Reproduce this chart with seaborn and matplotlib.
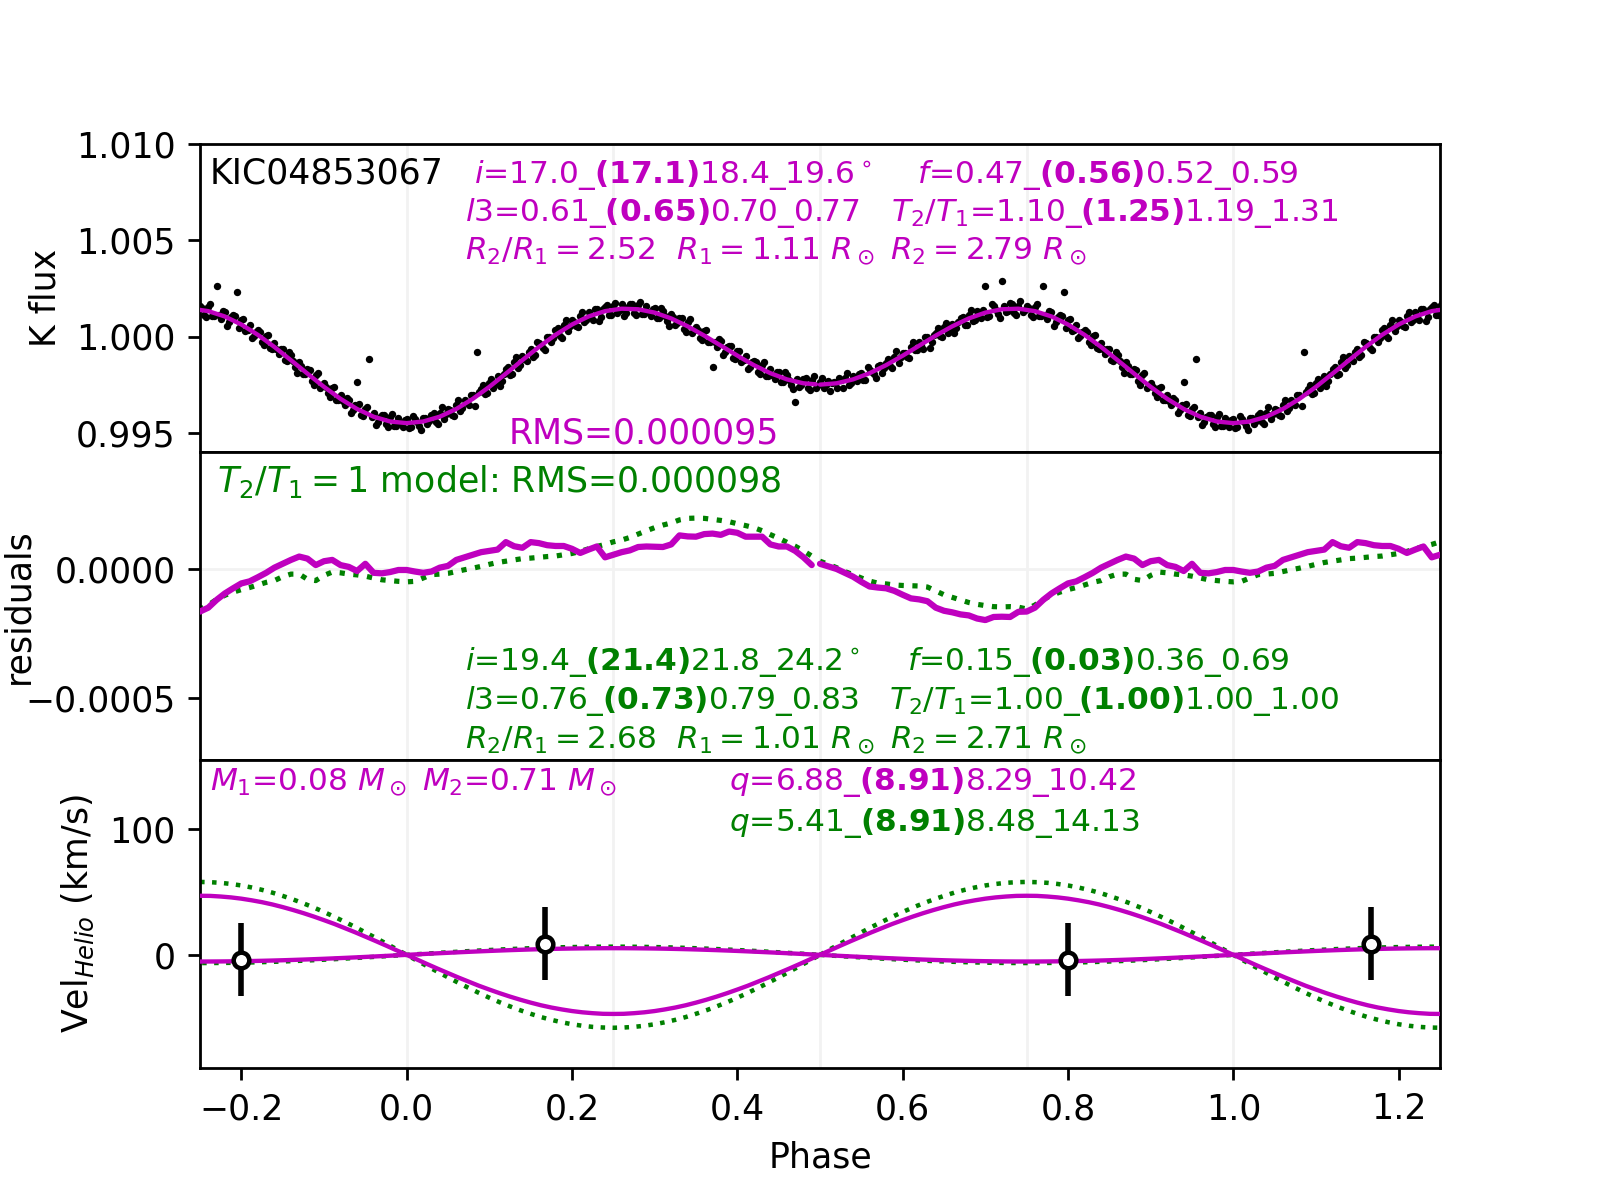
import numpy as np
import pandas as pd
import seaborn as sns
import matplotlib.pyplot as plt

# ---- light curve (K band), phase -0.5 .. 0.495, flux in ppm relative to 1 ----
lc_phase = np.round(np.arange(-0.5, 0.5, 0.005), 4)
lc_model_ppm = [
    -2500, -2483, -2466, -2448, -2431, -2380, -2330, -2279, -2228, -2148,
    -2067, -1987, -1906, -1801, -1697, -1592, -1487, -1365, -1243, -1120,
    -998, -867, -737, -606, -475, -345, -215, -84, 46, 167,
    288, 408, 529, 631, 734, 836, 938, 1014, 1090, 1165,
    1241, 1285, 1328, 1372, 1415, 1422, 1430, 1437, 1444, 1413,
    1381, 1350, 1318, 1249, 1180, 1110, 1041, 937, 832, 728,
    623, 489, 355, 220, 86, -71, -228, -386, -543, -714,
    -885, -1057, -1228, -1404, -1580, -1757, -1933, -2104, -2275, -2445,
    -2616, -2772, -2928, -3083, -3239, -3371, -3502, -3634, -3766, -3866,
    -3966, -4066, -4166, -4228, -4290, -4353, -4415, -4436, -4458, -4480,
    -4500, -4480, -4458, -4436, -4415, -4353, -4290, -4228, -4166, -4066,
    -3966, -3866, -3766, -3634, -3502, -3371, -3239, -3083, -2928, -2772,
    -2616, -2445, -2275, -2104, -1933, -1757, -1580, -1404, -1228, -1057,
    -885, -714, -543, -386, -228, -71, 86, 220, 355, 489,
    623, 728, 832, 937, 1041, 1110, 1180, 1249, 1318, 1350,
    1381, 1413, 1444, 1437, 1430, 1422, 1415, 1372, 1328, 1285,
    1241, 1165, 1090, 1014, 938, 836, 734, 631, 529, 408,
    288, 167, 46, -84, -215, -345, -475, -606, -737, -867,
    -998, -1120, -1243, -1365, -1487, -1592, -1697, -1801, -1906, -1987,
    -2067, -2148, -2228, -2279, -2330, -2380, -2431, -2448, -2466, -2483,
]
# observed points, first set (at lc_phase)
lc_obs_ppm = [
    -2380, -2650, -2330, -2410, -2690, -2240, -2150, -2520, -2050, -2330,
    -1910, -2240, -1720, -1950, -1540, -1880, -1390, -1530, -1060, -1390,
    -870, -1090, -560, -700, -310, -640, -40, -290, 200, 10,
    470, 190, 640, 420, 950, 610, 1120, 830, 1330, 960,
    2600, 1080, 1560, 1190, 2900, 1270, 1720, 1230, 1610, 1250,
    1600, 1120, 1530, 1050, 2640, 900, 1290, 750, 1100, 2330,
    880, 270, 580, 30, 330, -260, 10, -600, -330, -900,
    -640, -1260, -980, -1590, -1320, -1950, -1700, -2290, -2020, -2660,
    -2390, -2950, -2700, -3290, -3020, -3560, -3290, -3830, -2380, -4070,
    -3760, -1190, -3950, -4420, -4100, -4560, -4200, -4640, -4250, -4690,
    -4310, -4720, -4270, -4650, -4230, -4570, -4080, -4440, -3960, -4280,
    -3770, -4090, -3560, -3850, -3300, -3580, -3020, -830, -2710, -2980,
    -2400, -2680, -2050, -2320, -1710, -1980, -1350, -1620, -1000, -1290,
    -650, -940, -320, -610, 0, -290, 320, 10, 590, 260,
    860, 520, 1070, 730, 1280, 880, 1410, 1030, 1520, 1110,
    1590, 1200, 1680, 1220, 1690, 1200, 1650, 1150, 1560, 1060,
    1470, 940, 1310, 790, 1160, 600, 960, 400, 750, 170,
    510, -60, 270, -310, -1600, -570, -250, -830, -510, -1100,
    -770, -1340, -1020, -1590, -1260, -1820, -1470, -2030, -1680, -2210,
    -1840, -2370, -2000, -2500, -3420, -2600, -2210, -2670, -2240, -2700,
]
# observed points, second set (half a step later in phase)
lc_obs2_ppm = [
    -2162, -2535, -2847, -2360, -2166, -2655, -1895, -2434, -2218, -1938,
    -2277, -1587, -1834, -2169, -1495, -1630, -1146, -1644, -742, -1069,
    -843, -1112, -292, -691, -430, -20, -580, 101, 417, -2,
    678, 409, 190, 763, 1025, 587, 1386, 872, 1098, 1373,
    1013, 1667, 1370, 974, 1569, 1336, 1714, 1101, 1869, 1387,
    1456, 1024, 1664, 1065, 1125, 1336, 559, 1005, 1090, 446,
    886, 362, -102, 233, 248, -450, 103, -645, -659, -630,
    -1221, -783, -1296, -1912, -1519, -1935, -1739, -2530, -1920, -2541,
    -2604, -3160, -2626, -3311, -3325, -3177, -3998, -3580, -3506, -4146,
    -3686, -4176, -4587, -4179, -4082, -4684, -4016, -4627, -4499, -4320,
    -4740, -4109, -4427, -4846, -4234, -4412, -3979, -4537, -3676, -4026,
    -3826, -4126, -3320, -3718, -3457, -3045, -3591, -2886, -2540, -2924,
    -2201, -2420, -2580, -1939, -1605, -1969, -1082, -1496, -1173, -801,
    -1050, -269, -445, -727, 0, -82, 433, -52, 862, 546,
    766, 470, 1265, 839, 1056, 1405, 785, 1404, 1644, 1136,
    1727, 1369, 1051, 1514, 1666, 1119, 1804, 1170, 1277, 1433,
    953, 1488, 1072, 556, 1037, 695, 963, 240, 909, 338,
    318, -203, 361, -300, -300, -150, -971, -552, -492, -1163,
    -729, -1242, -1694, -1346, -1300, -1945, -1339, -2034, -1977, -1857,
    -2358, -1828, -2234, -2725, -2205, -2496, -2160, -2797, -2035, -2502,
]

# ---- binned residuals (units of 1e-6), phase -0.5 .. 0.49 ----
res_phase = np.round(np.arange(-0.5, 0.5, 0.01), 2)
res_fit = [
    20, 10, 0, -15, -30, -50, -68, -72, -75, -85,
    -100, -114, -118, -125, -150, -162, -168, -176, -180, -192,
    -198, -186, -185, -186, -166, -165, -150, -120, -95, -75,
    -56, -48, -32, -15, 5, 20, 35, 48, 40, 15,
    30, 35, 15, 8, -8, 20, -15, -17, -12, -4,
    -4, -10, -15, -10, 5, 12, 35, 45, 55, 65,
    70, 75, 104, 88, 82, 104, 100, 92, 89, 89,
    78, 62, 75, 87, 45, 55, 65, 72, 85, 87,
    86, 85, 95, 130, 126, 125, 135, 137, 132, 145,
    140, 125, 125, 125, 95, 87, 87, 70, 45, 15,
]
res_t1 = [
    30, 18, 5, -10, -22, -35, -47, -55, -58, -62,
    -64, -65, -66, -70, -85, -100, -110, -120, -130, -137,
    -142, -146, -147, -146, -148, -155, -140, -118, -102, -90,
    -80, -72, -62, -52, -45, -30, -20, -20, -40, -45,
    -25, -12, -15, -20, -23, -28, -35, -42, -45, -48,
    -50, -48, -35, -22, -20, -17, -10, -3, 3, 10,
    18, 25, 30, 35, 40, 42, 45, 48, 50, 55,
    60, 68, 78, 87, 95, 105, 112, 122, 135, 148,
    160, 170, 178, 190, 196, 197, 196, 192, 188, 183,
    175, 168, 160, 148, 133, 119, 103, 88, 70, 50,
]

# ---- radial velocity curves (km/s), phase -0.5 .. 0.5 ----
rv_phase = np.round(np.arange(-0.5, 0.50001, 0.0125), 4)
rv1_fit = [
    0, 3.7, 7.4, 11.0, 14.5, 18.0, 21.3, 24.6, 27.6, 30.5,
    33.2, 35.7, 38.0, 40.1, 41.9, 43.4, 44.7, 45.7, 46.4, 46.9, 47.0,
    46.9, 46.4, 45.7, 44.7, 43.4, 41.9, 40.1, 38.0, 35.7, 33.2,
    30.5, 27.6, 24.6, 21.3, 18.0, 14.5, 11.0, 7.4, 3.7, 0,
    -3.7, -7.4, -11.0, -14.5, -18.0, -21.3, -24.6, -27.6, -30.5, -33.2,
    -35.7, -38.0, -40.1, -41.9, -43.4, -44.7, -45.7, -46.4, -46.9, -47.0,
    -46.9, -46.4, -45.7, -44.7, -43.4, -41.9, -40.1, -38.0, -35.7, -33.2,
    -30.5, -27.6, -24.6, -21.3, -18.0, -14.5, -11.0, -7.4, -3.7, 0,
]
rv1_t1 = [
    0, 4.6, 9.1, 13.5, 17.9, 22.2, 26.3, 30.3, 34.1, 37.7,
    41.0, 44.1, 46.9, 49.5, 51.7, 53.6, 55.2, 56.4, 57.3, 57.8, 58.0,
    57.8, 57.3, 56.4, 55.2, 53.6, 51.7, 49.5, 46.9, 44.1, 41.0,
    37.7, 34.1, 30.3, 26.3, 22.2, 17.9, 13.5, 9.1, 4.6, 0,
    -4.6, -9.1, -13.5, -17.9, -22.2, -26.3, -30.3, -34.1, -37.7, -41.0,
    -44.1, -46.9, -49.5, -51.7, -53.6, -55.2, -56.4, -57.3, -57.8, -58.0,
    -57.8, -57.3, -56.4, -55.2, -53.6, -51.7, -49.5, -46.9, -44.1, -41.0,
    -37.7, -34.1, -30.3, -26.3, -22.2, -17.9, -13.5, -9.1, -4.6, 0,
]
rv2_fit = [
    0, -0.42, -0.83, -1.24, -1.64, -2.03, -2.41, -2.77, -3.12, -3.44,
    -3.75, -4.03, -4.29, -4.52, -4.72, -4.90, -5.04, -5.15, -5.23, -5.28, -5.30,
    -5.28, -5.23, -5.15, -5.04, -4.90, -4.72, -4.52, -4.29, -4.03, -3.75,
    -3.44, -3.12, -2.77, -2.41, -2.03, -1.64, -1.24, -0.83, -0.42, 0,
    0.42, 0.83, 1.24, 1.64, 2.03, 2.41, 2.77, 3.12, 3.44, 3.75,
    4.03, 4.29, 4.52, 4.72, 4.90, 5.04, 5.15, 5.23, 5.28, 5.30,
    5.28, 5.23, 5.15, 5.04, 4.90, 4.72, 4.52, 4.29, 4.03, 3.75,
    3.44, 3.12, 2.77, 2.41, 2.03, 1.64, 1.24, 0.83, 0.42, 0,
]
rv2_t1 = [
    0, -0.51, -1.02, -1.52, -2.01, -2.49, -2.95, -3.40, -3.82, -4.22,
    -4.60, -4.94, -5.26, -5.54, -5.79, -6.01, -6.18, -6.32, -6.42, -6.48, -6.50,
    -6.48, -6.42, -6.32, -6.18, -6.01, -5.79, -5.54, -5.26, -4.94, -4.60,
    -4.22, -3.82, -3.40, -2.95, -2.49, -2.01, -1.52, -1.02, -0.51, 0,
    0.51, 1.02, 1.52, 2.01, 2.49, 2.95, 3.40, 3.82, 4.22, 4.60,
    4.94, 5.26, 5.54, 5.79, 6.01, 6.18, 6.32, 6.42, 6.48, 6.50,
    6.48, 6.42, 6.32, 6.18, 6.01, 5.79, 5.54, 5.26, 4.94, 4.60,
    4.22, 3.82, 3.40, 2.95, 2.49, 2.01, 1.52, 1.02, 0.51, 0,
]
rv_obs_phase = [-0.2, 0.167]
rv_obs_vel = [-4, 9]
rv_obs_err = [29, 29]

sns.set_style("ticks", rc={
    "axes.edgecolor": "black", "xtick.color": "black", "ytick.color": "black",
    "axes.labelcolor": "black", "text.color": "black",
})
plt.rcParams["font.family"] = ["DejaVu Sans"]
plt.rcParams["font.size"] = 10
plt.rcParams["mathtext.fontset"] = "dejavusans"

fig, (ax1, ax2, ax3) = plt.subplots(3, 1, sharex=True, figsize=(6.4, 4.8), dpi=250)
plt.subplots_adjust(hspace=0)

for ax in (ax1, ax2, ax3):
    for xv in (0.0, 0.25, 0.5, 0.75, 1.0):
        ax.axvline(xv, color="0.95", lw=0.8, zorder=0)
ax2.axhline(0, color="0.95", lw=0.8, zorder=0)

lc_obs = 1 + np.array(lc_obs_ppm) * 1e-6
lc_obs2 = 1 + np.array(lc_obs2_ppm) * 1e-6
lc_model = 1 + np.array(lc_model_ppm) * 1e-6
res_fit_v = np.array(res_fit) * 1e-6
res_t1_v = np.array(res_t1) * 1e-6

for shift in (0, 1):
    sns.scatterplot(x=lc_phase + shift, y=lc_obs, ax=ax1, color="black",
                    s=4.5, linewidth=0, zorder=2)
    sns.scatterplot(x=lc_phase + 0.0025 + shift, y=lc_obs2, ax=ax1,
                    color="black", s=4.5, linewidth=0, zorder=2)
    sns.lineplot(x=lc_phase + shift, y=lc_model, ax=ax1, color="m", lw=1.25,
                 estimator=None, sort=False, zorder=3)

    sns.lineplot(x=res_phase + shift, y=res_fit_v, ax=ax2, color="m", lw=1.8,
                 estimator=None, sort=False, zorder=3)
    sns.lineplot(x=res_phase + shift, y=res_t1_v, ax=ax2, color="g", lw=1.5,
                 linestyle=":", estimator=None, sort=False, zorder=2)

    sns.lineplot(x=rv_phase + shift, y=rv1_fit, ax=ax3, color="m", lw=1.25,
                 estimator=None, sort=False, zorder=3)
    sns.lineplot(x=rv_phase + shift, y=rv2_fit, ax=ax3, color="m", lw=1.25,
                 estimator=None, sort=False, zorder=3)
    sns.lineplot(x=rv_phase + shift, y=rv1_t1, ax=ax3, color="g", lw=1.3,
                 linestyle=":", estimator=None, sort=False, zorder=2)
    sns.lineplot(x=rv_phase + shift, y=rv2_t1, ax=ax3, color="g", lw=1.3,
                 linestyle=":", estimator=None, sort=False, zorder=2)
    ax3.errorbar(np.array(rv_obs_phase) + shift, rv_obs_vel, yerr=rv_obs_err,
                 fmt="o", mfc="white", mec="black", mew=1.3, ms=4.5,
                 ecolor="black", elinewidth=1.6, capsize=0, zorder=5)

# axes ranges and ticks
ax1.set_xlim(-0.25, 1.25)
ax1.set_ylim(0.994, 1.010)
ax1.set_yticks([0.995, 1.000, 1.005, 1.010])
ax2.set_ylim(-0.00074, 0.000453)
ax2.set_yticks([-0.0005, 0.0])
ax3.set_ylim(-90, 155)
ax3.set_yticks([0, 100])
ax3.set_xticks([-0.2, 0.0, 0.2, 0.4, 0.6, 0.8, 1.0, 1.2])
for ax in (ax1, ax2):
    ax.tick_params(axis="x", bottom=False, labelbottom=False)

ax1.set_ylabel("K flux")
ax2.set_ylabel("residuals")
ax2.yaxis.set_label_coords(-0.133, 0.5)
ax3.set_ylabel(r"Vel$_{Helio}$ (km/s)")
ax3.set_xlabel("Phase")

kw = dict(va="baseline", fontsize=9)

# annotations, top panel
ax1.text(0.008, 0.873, "KIC04853067", transform=ax1.transAxes, va="baseline")
ax1.text(0.221, 0.873, r"$i$=17.0_$\bf{(17.1)}$18.4_19.6$^\circ$",
         transform=ax1.transAxes, color="m", **kw)
ax1.text(0.578, 0.873, r"$f$=0.47_$\bf{(0.56)}$0.52_0.59",
         transform=ax1.transAxes, color="m", **kw)
ax1.text(0.214, 0.750, r"$l3$=0.61_$\bf{(0.65)}$0.70_0.77",
         transform=ax1.transAxes, color="m", **kw)
ax1.text(0.557, 0.750, r"$T_2/T_1$=1.10_$\bf{(1.25)}$1.19_1.31",
         transform=ax1.transAxes, color="m", **kw)
ax1.text(0.214, 0.627,
         r"$R_2/R_1 = 2.52$  $R_1 = 1.11\ R_\odot$ $R_2 = 2.79\ R_\odot$",
         transform=ax1.transAxes, color="m", **kw)
ax1.text(0.249, 0.029, "RMS=0.000095", transform=ax1.transAxes,
         va="baseline", color="m")

# annotations, residual panel
ax2.text(0.014, 0.870, r"$T_2/T_1 = 1$ model: RMS=0.000098",
         transform=ax2.transAxes, va="baseline", color="g")
ax2.text(0.214, 0.292, r"$i$=19.4_$\bf{(21.4)}$21.8_24.2$^\circ$",
         transform=ax2.transAxes, color="g", **kw)
ax2.text(0.570, 0.292, r"$f$=0.15_$\bf{(0.03)}$0.36_0.69",
         transform=ax2.transAxes, color="g", **kw)
ax2.text(0.214, 0.166, r"$l3$=0.76_$\bf{(0.73)}$0.79_0.83",
         transform=ax2.transAxes, color="g", **kw)
ax2.text(0.556, 0.166, r"$T_2/T_1$=1.00_$\bf{(1.00)}$1.00_1.00",
         transform=ax2.transAxes, color="g", **kw)
ax2.text(0.214, 0.039,
         r"$R_2/R_1 = 2.68$  $R_1 = 1.01\ R_\odot$ $R_2 = 2.71\ R_\odot$",
         transform=ax2.transAxes, color="g", **kw)

# annotations, RV panel
ax3.text(0.008, 0.903, r"$M_1$=0.08 $M_\odot$ $M_2$=0.71 $M_\odot$",
         transform=ax3.transAxes, color="m", **kw)
ax3.text(0.427, 0.903, r"$q$=6.88_$\bf{(8.91)}$8.29_10.42",
         transform=ax3.transAxes, color="m", **kw)
ax3.text(0.427, 0.769, r"$q$=5.41_$\bf{(8.91)}$8.48_14.13",
         transform=ax3.transAxes, color="g", **kw)

fig.savefig("out.png", dpi=250)
